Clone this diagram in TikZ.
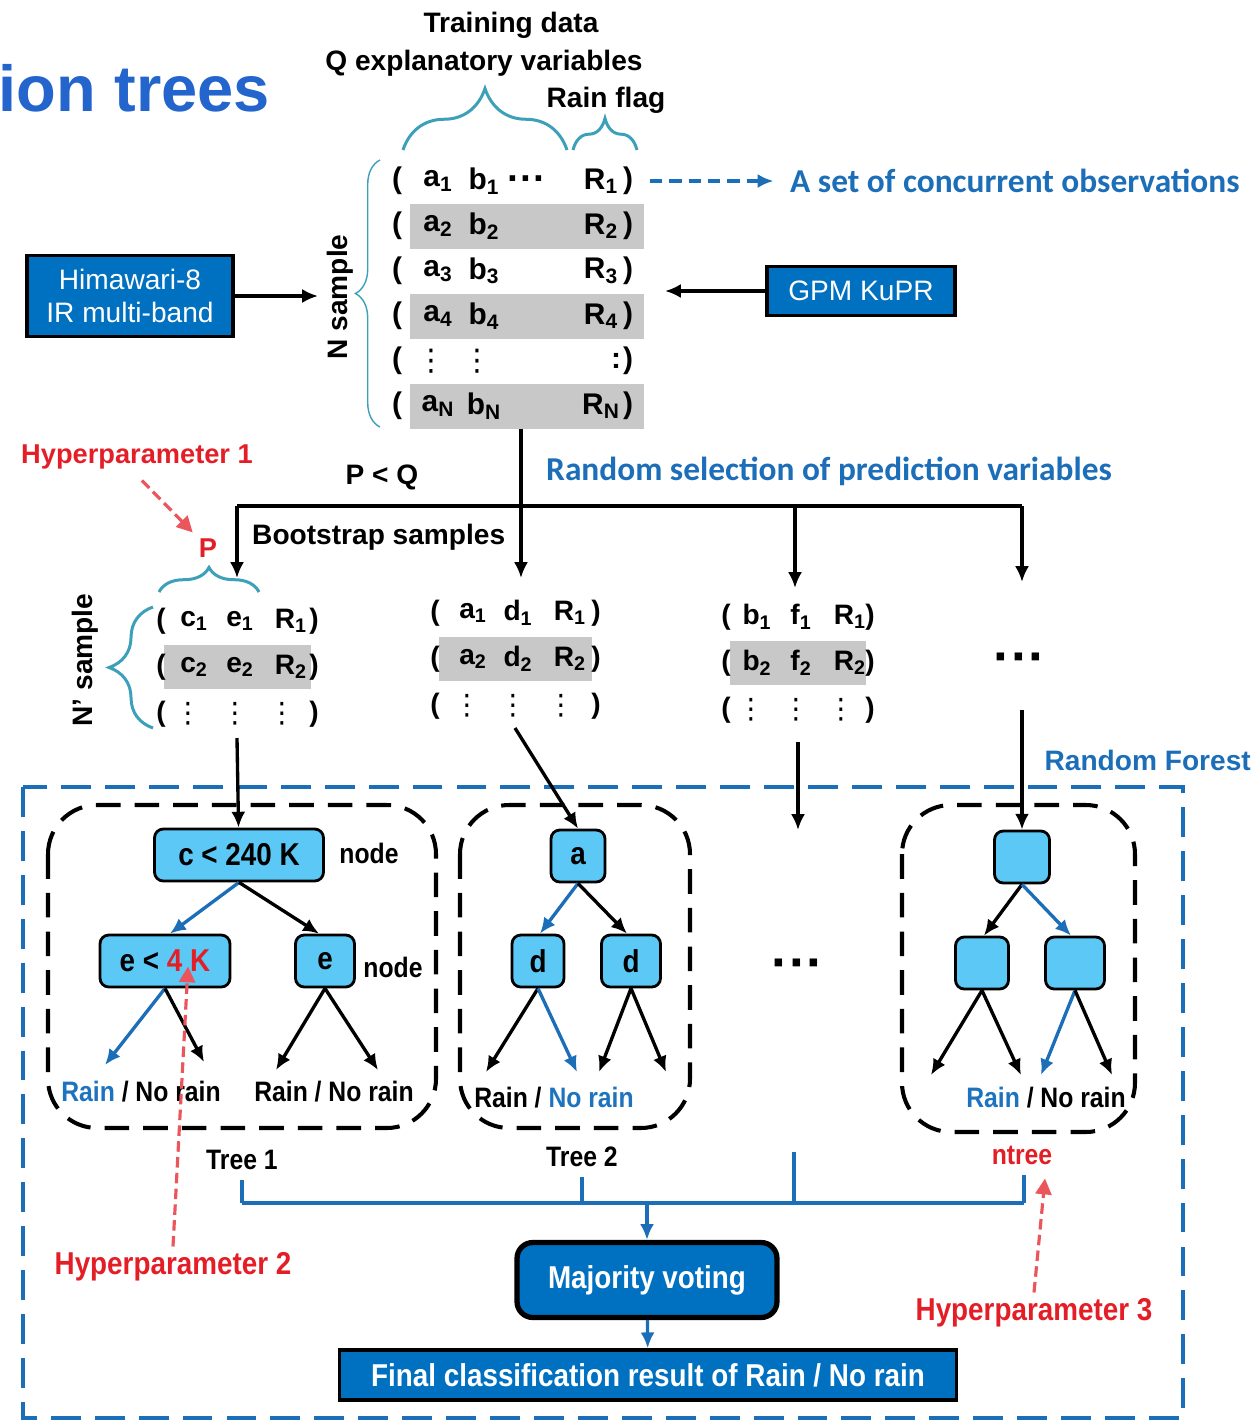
\documentclass[tikz,border=0pt]{standalone}
\usepackage{fontspec}
\setmainfont{Liberation Sans}
\newfontfamily\narrowfont{Liberation Sans}[FakeStretch=0.88]
\newfontfamily\califont{Carlito}
\newfontfamily\vdotfont{DejaVu Sans}
\newcommand{\vdotsym}{{\mdseries\vdotfont ⋮}}
\usetikzlibrary{arrows.meta,calc,decorations.pathreplacing}

\definecolor{boxblue}{RGB}{0,112,192}
\definecolor{nodecyan}{RGB}{91,200,245}
\definecolor{braceteal}{RGB}{60,160,185}
\definecolor{hyperred}{RGB}{228,30,38}
\definecolor{linkblue}{RGB}{28,110,185}
\definecolor{rainblue}{RGB}{30,115,190}
\definecolor{titleblue}{RGB}{35,100,205}
\definecolor{bandgray}{RGB}{200,200,200}

\begin{document}
\begin{tikzpicture}[x=0.02cm, y=-0.02cm,
    lbl/.style={font=\bfseries\fontsize{16}{19}\selectfont},
    rowtxt/.style={font=\bfseries\fontsize{17}{20}\selectfont, inner sep=1pt},
    grptxt/.style={font=\bfseries\fontsize{16}{19}\selectfont, inner sep=1pt},
    bluelbl/.style={text=linkblue, font=\califont\bfseries\fontsize{19}{22}\selectfont},
    hyper/.style={text=hyperred, font=\bfseries\fontsize{15.5}{18}\selectfont},
    hypern/.style={text=hyperred, font=\narrowfont\bfseries\fontsize{18}{20}\selectfont},
    plain/.style={font=\narrowfont\bfseries\fontsize{16}{19}\selectfont},
    leaftxt/.style={font=\narrowfont\bfseries\fontsize{16}{19}\selectfont},
    bigdots/.style={font=\bfseries\fontsize{30}{30}\selectfont},
    graybar/.style={fill=bandgray, inner sep=0pt},
    srcbox/.style={draw=black, line width=2pt, fill=boxblue, text=white,
        font=\fontsize{16}{19}\selectfont, align=center},
    tnode/.style={draw=black, line width=1.6pt, fill=nodecyan, rounded corners=5pt,
        minimum height=1.04cm, inner sep=2pt,
        font=\narrowfont\bfseries\fontsize{18}{20}\selectfont},
    treebox/.style={draw=black, line width=2.3pt, dash pattern=on 14pt off 8pt,
        rounded corners=28pt},
    frame/.style={draw=linkblue, line width=2.8pt, dash pattern=on 17pt off 8pt},
    brc/.style={draw=braceteal, line width=1.7pt, decorate,
        decoration={brace, amplitude=#1}},
    conn/.style={line width=1.9pt, -{Latex[length=9pt,width=8pt]}},
    bconn/.style={conn, draw=linkblue, color=linkblue},
    hyperarrow/.style={draw=hyperred!75, color=hyperred!75, line width=1.8pt,
        dash pattern=on 6pt off 3pt, -{Triangle[length=9pt,width=9pt]}}]

    \useasboundingbox (0,0) rectangle (1257,1421);

    % Title fragment
    \node[anchor=east, text=titleblue, font=\bfseries\fontsize{37}{40}\selectfont] (title) at (276,88) {ion trees};

    % Training data header and braces
    \node[lbl] (train) at (511,25) {Training data};
    \node[lbl] (qvar) at (484,63) {Q explanatory variables};
    \node[lbl] (flag) at (606,100) {Rain flag};
    \draw[brc=35pt] (403,150) -- (567,150);
    \draw[brc=18pt] (573,150) -- (637,150);

    % Gray bands behind rows
    \foreach \y in {226,316,406} {
        \node[graybar, minimum width=4.7cm, minimum height=0.9cm] (band\y) at (527,\y) {};
    }

    % Training rows
    \foreach \i/\y in {1/181,2/226,3/271,4/316,N/406} {
        \node[rowtxt] (lp\i) at (397,\y) {(};
        \node[rowtxt] (a\i) at (438,\y) {a\textsubscript{\i}};
        \node[rowtxt] (b\i) at (484,\y) {b\textsubscript{\i}};
        \node[rowtxt] (R\i) at (601,\y) {R\textsubscript{\i}};
        \node[rowtxt] (rp\i) at (628,\y) {)};
    }
    \node[rowtxt, font=\bfseries\fontsize{22}{22}\selectfont] (dots1) at (527,184) {···};
    \node[rowtxt] (lp5) at (397,361) {(};
    \node[rowtxt] (va5) at (431,361) {\vdotsym};
    \node[rowtxt] (vb5) at (477,361) {\vdotsym};
    \node[rowtxt] (vr5) at (616,361) {:};
    \node[rowtxt] (rp5) at (628,361) {)};

    % N sample brace
    \draw[brc=14pt, line width=0.8pt] (380,427) -- (380,160);
    \node[lbl, rotate=90] (nsamp) at (340,297) {N sample};

    % Sources
    \node[srcbox, minimum width=4.12cm, minimum height=1.62cm] (hima) at (130,296) {Himawari-8\\IR multi-band};
    \coordinate (hin) at (318,296);
    \draw[conn] (hima) -- (hin);
    \node[srcbox, minimum width=3.76cm, minimum height=0.98cm] (gpm) at (861,291) {GPM KuPR};
    \coordinate (gin) at (665,291);
    \draw[conn] (gpm) -- (gin);

    % Concurrent observations
    \coordinate (obs0) at (650,181);
    \node[bluelbl, anchor=west] (obs) at (784,181) {A set of concurrent observations};
    \draw[draw=linkblue, color=linkblue, line width=1.9pt, dash pattern=on 7pt off 4pt,
        -{Latex[length=9pt,width=8pt]}, shorten >=6pt] (obs0) -- (obs);

    % Split into bootstrap samples
    \coordinate (split) at (521,506);
    \draw[line width=1.9pt] (band406.south -| split) -- (split);
    \foreach \k/\x/\t in {1/237/578, 2/521/578, 3/795/588, 4/1022/582} {
        \coordinate (s\k) at (\x,506);
        \coordinate (t\k) at (\x,\t);
        \draw[conn] (s\k) -- (t\k);
    }
    \draw[line width=1.9pt] (s1) -- (s4);
    \node[lbl] (pq) at (382,477) {P < Q};
    \node[bluelbl, anchor=west] (rsel) at (540,471) {Random selection of prediction variables};
    \node[lbl, anchor=west] (boot) at (246,537) {Bootstrap samples};

    % Hyperparameter 1
    \node[hyper, anchor=west] (hp1) at (15,457) {Hyperparameter 1};
    \node[hyper] (pp) at (208,548) {P};
    \draw[hyperarrow, shorten <=4pt] (hp1.south) -- (pp.north west);
    \draw[brc=14pt] (159,592) -- (259,592);

    % Bootstrap sample groups
    \foreach \g/\p/\q/\xa/\xb/\xc/\xd/\xe/\yo/\bw in {
        1/c/e/161/194/240/291/314/621/2.94,
        2/a/d/435/473/518/570/596/613/3.06,
        3/b/f/726/757/801/850/870/617/2.72} {
        \node[graybar, minimum width=\bw cm, minimum height=0.88cm] (gb\g) at ({(\xa+\xe)/2},\yo+46) {};
        \foreach \r in {1,2} {
            \pgfmathsetmacro\yy{\yo+(\r-1)*46}
            \node[grptxt] (g\g-lp\r) at (\xa,\yy) {(};
            \node[grptxt] (g\g-p\r) at (\xb,\yy) {\p\textsubscript{\r}};
            \node[grptxt] (g\g-q\r) at (\xc,\yy) {\q\textsubscript{\r}};
            \node[grptxt] (g\g-R\r) at (\xd,\yy) {R\textsubscript{\r}};
            \node[grptxt] (g\g-rp\r) at (\xe,\yy) {)};
        }
        \node[grptxt] (g\g-lp3) at (\xa,\yo+93) {(};
        \node[grptxt] (g\g-v1) at (\xb-6,\yo+93) {\vdotsym};
        \node[grptxt] (g\g-v2) at (\xc-5,\yo+93) {\vdotsym};
        \node[grptxt] (g\g-v3) at (\xd-9,\yo+93) {\vdotsym};
        \node[grptxt] (g\g-rp3) at (\xe,\yo+93) {)};
    }
    \node[bigdots] (g4) at (1020,664) {···};

    % N' sample brace
    \draw[brc=25pt] (153,728) -- (153,607);
    \node[lbl, rotate=90] (nps) at (85,660) {N’ sample};

    % Random forest frame
    \draw[frame] (23,787) rectangle (1183,1418);
    \node[lbl, text=linkblue, anchor=east] (rf) at (1257,760) {Random Forest};

    % Tree boxes
    \draw[treebox] (48,805) rectangle (436,1128);
    \draw[treebox] (460,805) rectangle (690,1128);
    \draw[treebox] (902,805) rectangle (1135,1132);

    % Tree nodes
    \node[tnode, minimum width=3.38cm] (c240) at (239,855) {c < 240 K};
    \node[tnode, minimum width=2.6cm] (e4k) at (165,961) {e < \textcolor{hyperred}{4 K}};
    \node[tnode, minimum width=1.18cm] (eN) at (325,961) {e};
    \node[plain] (node1) at (369,853) {node};
    \node[plain] (node2) at (393,967) {node};
    \node[tnode, minimum width=1.08cm] (aN) at (578,856) {a};
    \node[tnode, minimum width=1.04cm] (d1) at (538,961) {d};
    \node[tnode, minimum width=1.18cm] (d2) at (631,961) {d};
    \node[tnode, minimum width=1.1cm] (n0) at (1022,857) {};
    \node[tnode, minimum width=1.06cm] (n1) at (982,963) {};
    \node[tnode, minimum width=1.18cm] (n2) at (1075,963) {};

    % Inputs into trees
    \coordinate (f1) at (237,738);
    \coordinate (f2) at (515,728);
    \coordinate (f3) at (798,742);
    \coordinate (m3) at (798,830);
    \coordinate (f4) at (1022,710);
    \draw[conn] (f1) -- (c240);
    \draw[conn] (f2) -- (aN.north);
    \draw[conn] (f3) -- (m3);
    \draw[conn] (f4) -- (n0);

    % Branches between nodes
    \draw[bconn] (c240.south) -- ($(e4k.north)+(5,0)$);
    \draw[conn] (c240.south) -- ($(eN.north)+(-6,0)$);
    \draw[bconn] (aN.south) -- ($(d1.north)+(2,0)$);
    \draw[conn] (aN.south) -- ($(d2.north)+(-4,0)$);
    \draw[conn] (n0.south) -- ($(n1.north)+(2,0)$);
    \draw[bconn] (n0.south) -- ($(n2.north)+(-4,0)$);

    % Leaves
    \foreach \n/\x/\y in {l11/105/1065, l12/204/1062, l13/276/1070, l14/378/1070,
        l21/486/1072, l22/577/1072, l23/599/1072, l24/666/1072,
        l31/931/1075, l32/1021/1075, l33/1041/1075, l34/1112/1075} {
        \coordinate (\n) at (\x,\y);
    }
    \foreach \s/\t/\st in {e4k/l11/bconn, e4k/l12/conn, eN/l13/conn, eN/l14/conn,
        d1/l21/conn, d1/l22/bconn, d2/l23/conn, d2/l24/conn,
        n1/l31/conn, n1/l32/conn, n2/l33/bconn, n2/l34/conn} {
        \draw[\st] (\s.south) -- (\t);
    }
    \node[leaftxt] (lab1) at (141,1092) {\textcolor{rainblue}{Rain} / No rain};
    \node[leaftxt] (lab2) at (334,1092) {Rain / No rain};
    \node[leaftxt] (lab3) at (554,1098) {Rain / \textcolor{rainblue}{No rain}};
    \node[leaftxt] (lab4) at (1046,1098) {\textcolor{rainblue}{Rain} / No rain};
    \node[bigdots] (mid) at (798,970) {···};

    % Tree names
    \node[plain] (tr1) at (242,1160) {Tree 1};
    \node[plain] (tr2) at (582,1157) {Tree 2};
    \node[plain, text=hyperred] (trn) at (1022,1155) {ntree};

    % Collect votes
    \foreach \k/\x/\y in {1/242/1180, 2/582/1177, 3/794/1152, 4/1024/1175} {
        \coordinate (k\k) at (\x,\y);
        \coordinate (j\k) at (\x,1203);
        \draw[draw=linkblue, line width=1.9pt] (k\k) -- (j\k);
    }
    \draw[draw=linkblue, line width=1.9pt] (j1) -- (j4);
    \coordinate (jm) at (647,1203);
    \node[draw=black, line width=3pt, fill=boxblue, text=white, rounded corners=9pt,
        minimum width=5.2cm, minimum height=1.5cm,
        font=\narrowfont\bfseries\fontsize{18}{20}\selectfont] (vote) at (647,1280) {Majority voting};
    \draw[bconn] (jm) -- (vote);
    \node[draw=black, line width=2pt, fill=boxblue, text=white,
        minimum width=12.34cm, minimum height=1.0cm,
        font=\narrowfont\bfseries\fontsize{18}{20}\selectfont] (final) at (648,1375) {Final classification result of Rain / No rain};
    \draw[bconn] (vote) -- (final);

    % Hyperparameters 2 and 3
    \node[hypern] (hp2) at (173,1267) {Hyperparameter 2};
    \draw[hyperarrow] (hp2.north) -- ($(e4k.south)+(23,-22)$);
    \node[hypern] (hp3) at (1034,1313) {Hyperparameter 3};
    \draw[hyperarrow] (hp3.north) -- ($(trn.south)+(23,8)$);
\end{tikzpicture}
\end{document}
